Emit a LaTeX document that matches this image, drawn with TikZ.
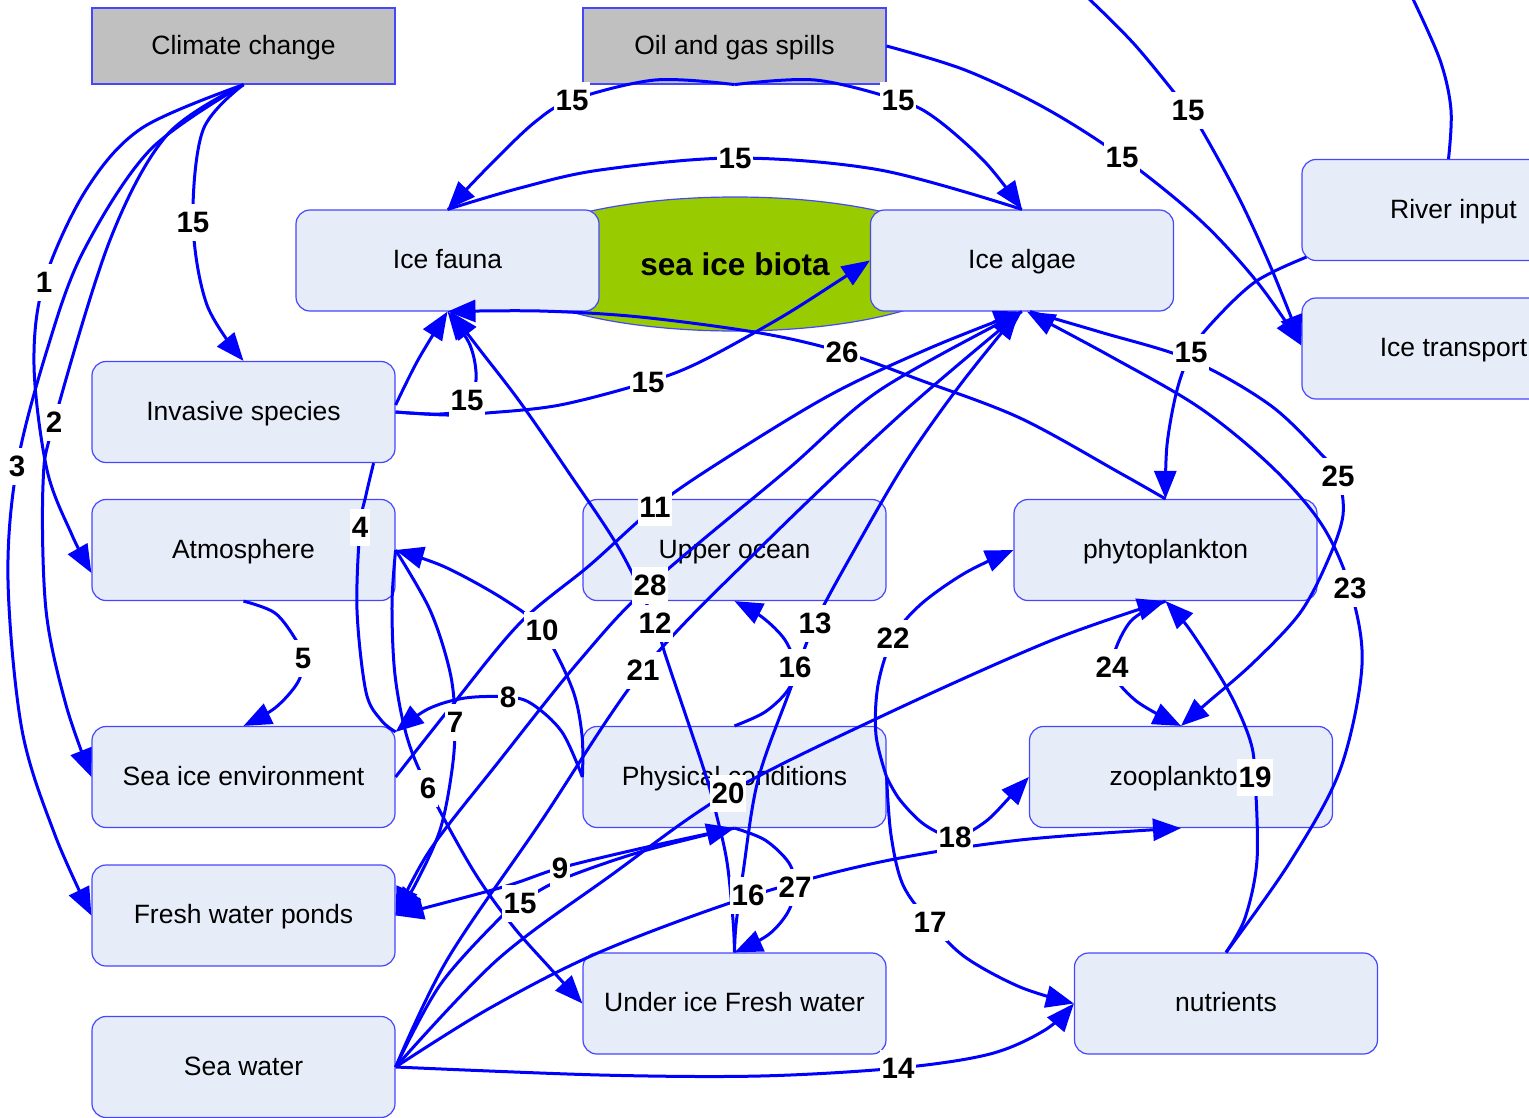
\documentclass[tikz,border=0pt]{standalone}
\usepackage{fontspec}
\setmainfont{Liberation Sans}
\usetikzlibrary{arrows.meta,shapes.geometric}
\definecolor{boxfill}{RGB}{230,236,248}
\definecolor{boxline}{RGB}{70,70,255}
\definecolor{srcfill}{RGB}{192,192,192}
\definecolor{biotagreen}{RGB}{153,204,0}
\definecolor{linkblue}{RGB}{0,0,255}
\pgfdeclarelayer{biota}
\pgfdeclarelayer{boxes}
\pgfdeclarelayer{edges}
\pgfsetlayers{biota,boxes,edges,main}
\tikzset{
  box/.style={draw=boxline, line width=1.2pt, fill=boxfill, rounded corners=14pt,
    minimum width=303pt, minimum height=101pt, inner sep=0pt, text height=22pt, text depth=6pt,
    font=\fontsize{26.5}{30}\selectfont},
  srcbox/.style={box, fill=srcfill, rounded corners=0pt, minimum height=76pt},
  lab/.style={fill=white, inner xsep=1.5pt, inner ysep=1pt, text height=28pt, text depth=7pt,
    font=\fontsize{29.5}{32}\selectfont\bfseries},
  link/.style={draw=linkblue, line width=3pt},
  arr/.style={link, -{Triangle[length=28pt,width=22pt]}},
  sm/.style={smooth, tension=0.55}
}
\begin{document}
\begin{tikzpicture}[x=1pt,y=-1pt]
\useasboundingbox (0,0) rectangle (1529,1117);

% the green group shape behind the two ice boxes
\begin{pgfonlayer}{biota}
\node[ellipse, draw=boxline, line width=1.2pt, fill=biotagreen, minimum width=470pt, minimum height=134pt,
  font=\fontsize{31.5}{34}\selectfont\bfseries] (biota) at (735,264) {sea ice biota};
\end{pgfonlayer}

% boxes
\begin{pgfonlayer}{boxes}
\node[srcbox] (cc) at (243.5,46) {Climate change};
\node[srcbox] (oil) at (734.5,46) {Oil and gas spills};
\node[box] (fauna) at (447.5,260.5) {Ice fauna};
\node[box] (alg) at (1022,260.5) {Ice algae};
\node[box] (inv) at (243.5,412) {Invasive species};
\node[box] (atm) at (243.5,550) {Atmosphere};
\node[box] (sie) at (243.5,777) {Sea ice environment};
\node[box] (fwp) at (243.5,915.5) {Fresh water ponds};
\node[box] (sw) at (243.5,1067) {Sea water};
\node[box] (uo) at (734.5,550) {Upper ocean};
\node[box] (phys) at (734.5,777) {Physical conditions};
\node[box] (uif) at (734.5,1003.5) {Under ice Fresh water};
\node[box] (phyto) at (1165.5,550) {phytoplankton};
\node[box] (zoo) at (1181,777) {zooplankton};
\node[box] (nut) at (1226,1003.5) {nutrients};
\node[box] (river) at (1453.5,210) {River input};
\node[box] (trans) at (1453.5,348.5) {Ice transport};
\end{pgfonlayer}

% edge labels
\node[lab] (l1) at (44,282) {1};
\node[lab] (l2) at (54,422) {2};
\node[lab] (l3) at (17,466) {3};
\node[lab] (lcc) at (193,222) {15};
\node[lab] (loilL) at (572,100) {15};
\node[lab] (loilR) at (898,100) {15};
\node[lab] (lbio) at (735,158) {15};
\node[lab] (linvF) at (467,400) {15};
\node[lab] (linvA) at (648,382) {15};
\node[lab] (l26) at (842,352) {26};
\node[lab] (loilT) at (1122,157) {15};
\node[lab] (ltop) at (1188,110) {15};
\node[lab] (lriv) at (1191,352) {15};
\node[lab] (l25) at (1338,476) {25};
\node[lab] (l23) at (1350,588) {23};
\node[lab] (l24) at (1112,667) {24};
\node[lab] (l19) at (1255,777) {19};
\node[lab] (l4) at (360,527) {4};
\node[lab] (l5) at (303,658) {5};
\node[lab] (l6) at (428,788) {6};
\node[lab] (l7) at (455,722) {7};
\node[lab] (l8) at (508,697) {8};
\node[lab] (l10) at (542,630) {10};
\node[lab] (l11) at (655,507) {11};
\node[lab] (l28) at (650,585) {28};
\node[lab] (l12) at (655,623) {12};
\node[lab] (l21) at (643,670) {21};
\node[lab] (l13) at (815,623) {13};
\node[lab] (l16a) at (795,667) {16};
\node[lab] (l22) at (893,638) {22};
\node[lab] (l20) at (728,793) {20};
\node[lab] (l18) at (955,837) {18};
\node[lab] (l9) at (560,868) {9};
\node[lab] (l15b) at (520,903) {15};
\node[lab] (l16b) at (748,895) {16};
\node[lab] (l27) at (795,887) {27};
\node[lab] (l17) at (930,922) {17};
\node[lab] (l14) at (898,1068) {14};

\coordinate (top1) at (1087,-3);
\coordinate (top2) at (1412,-3);

\begin{pgfonlayer}{edges}
% from Climate change
\draw[arr] plot[sm] coordinates {(cc.south) (142,128) (86,190) (l1.center) (34,365) (47,470) (72,535) ([yshift=-23pt]atm.west)};
\draw[arr] plot[sm] coordinates {(cc.south) (167,135) (110,240) (l2.center) (43,485) (46,610) (66,705) (sie.west)};
\draw[arr] plot[sm] coordinates {(cc.south) (150,150) (83,252) (47,350) (l3.center) (8,580) (22,730) (55,835) (fwp.west)};
\draw[arr] plot[sm] coordinates {(cc.south) (203,130) (lcc.center) (207,305) (inv.north)};
% from Oil and gas spills
\draw[arr] plot[sm] coordinates {(oil.south) (655,80) (loilL.center) (535,122) (490,165) (fauna.north)};
\draw[arr] plot[sm] coordinates {(oil.south) (815,80) (loilR.center) (935,118) (985,162) (alg.north)};
\draw[arr] plot[sm] coordinates {(oil.east) (965,70) (1045,108) (loilT.center) (1200,220) (1258,283) ([yshift=3pt]trans.west)};
\draw[arr] plot[sm] coordinates {(top1) (1135,45) (ltop.center) (1203,132) (1240,200) (1272,270) ([yshift=5pt]trans.west)};
\draw[link] plot[sm] coordinates {(alg.north) (880,170) (lbio.center) (600,170) (520,188) (fauna.north)};
% river input
\draw[link] plot[sm] coordinates {([xshift=-5pt]river.north) (1451,110) (1440,60) (top2)};
\draw[arr] plot[sm] coordinates {([xshift=5pt,yshift=4pt]river.south west) (1255,282) (1210,325) (lriv.center) (1177,390) (1167,445) (phyto.north)};
% invasive species
\draw[arr] plot[sm] coordinates {([yshift=7pt]inv.east) (418,360) (fauna.south)};
\draw[arr] plot[sm] coordinates {(inv.east) (440,414) (465,408) (476,380) (470,345) (fauna.south)};
\draw[arr] plot[sm] coordinates {(inv.east) (447,415) (487,413) (560,405) (linvA.center) (700,362) (780,318) (840,280) (alg.west)};
\draw[link] plot[sm] coordinates {([xshift=-22pt]inv.south east) (366,495) (l4.center) (357,610) (366,692) (381,720) ([yshift=-6pt]sie.north east)};
% plankton, nutrients
\draw[arr] plot[sm] coordinates {(phyto.north) (1120,473) (1020,418) (920,380) (l26.center) (760,333) (640,317) (540,311) (fauna.south)};
\draw[arr] plot[sm] coordinates {([xshift=8pt]alg.south) (1100,332) (1191,360) (1270,405) (1322,455) (l25.center) (1343,515) (1328,560) (1300,613) (1253,663) (1207,703) (zoo.north)};
\draw[arr] plot[sm] coordinates {(nut.north) (1290,862) (1340,770) (1362,665) (l23.center) (1322,525) (1272,467) (1200,408) (1110,356) ([xshift=5pt]alg.south)};
\draw[arr] plot[sm] coordinates {(nut.north) (1245,918) (1257,860) (l19.center) (1250,740) (1228,690) (1190,630) (phyto.south)};
\draw[arr] plot[sm] coordinates {(phyto.south) (1130,622) (l24.center) (1135,700) (zoo.north)};
% from Sea water
\draw[arr] plot[sm] coordinates {(sw.east) (497,960) (610,876) (l20.center) (880,717) (1050,641) (phyto.south)};
\draw[arr] plot[sm] coordinates {(sw.east) (447,960) (540,823) (l21.center) (760,548) (900,415) (alg.south)};
\draw[arr] plot[sm] coordinates {(sw.east) (440,985) (500,918) (l15b.center) (560,880) (640,852) (phys.south)};
\draw[arr] plot[sm] coordinates {(sw.east) (490,1008) (600,952) (748,897) (880,862) (1020,840) (zoo.south)};
\draw[arr] plot[sm] coordinates {(sw.east) (600,1075) (760,1076) (l14.center) (990,1054) (1045,1030) (nut.west)};
% from Physical conditions
\draw[arr] plot[sm] coordinates {(phys.east) (891,835) (903,885) (l17.center) (965,957) (1020,987) (nut.west)};
\draw[arr] plot[sm] coordinates {(phys.east) (876,735) (878,685) (l22.center) (920,605) (965,573) (phyto.west)};
\draw[arr] plot[sm] coordinates {(phys.east) (900,800) (925,825) (l18.center) (985,822) (1010,797) (zoo.west)};
\draw[arr] plot[sm] coordinates {(phys.south) (647,847) (l9.center) (503,887) (fwp.east)};
\draw[arr] plot[sm] coordinates {(phys.south) (765,840) (789,863) (l27.center) (788,912) (768,935) (uif.north)};
\draw[arr] plot[sm] coordinates {(phys.north) (765,712) (788,690) (l16a.center) (785,640) (762,617) (uo.south)};
\draw[arr] plot[sm] coordinates {(phys.west) (582,735) (572,688) (l10.center) (505,600) (445,567) (atm.east)};
\draw[arr] plot[sm] coordinates {(phys.west) (562,732) (532,704) (l8.center) (465,698) (428,709) ([yshift=-6pt]sie.north east)};
% from Atmosphere
\draw[arr] plot[sm] coordinates {(atm.south) (275,613) (296,640) (l5.center) (298,682) (275,708) (sie.north)};
\draw[arr] plot[sm] coordinates {(atm.east) (392,605) (395,675) (407,737) (l6.center) (473,870) (512,925) (550,968) (uif.west)};
\draw[arr] plot[sm] coordinates {(atm.east) (430,610) (450,672) (l7.center) (452,770) (440,830) (415,885) (fwp.east)};
% from Under ice Fresh water
\draw[arr] plot[sm] coordinates {(uif.north) (733,920) (727,862) (717,817) (705,773) (667,660) (l12.center) (620,550) (567,470) (520,402) (480,350) ([xshift=3pt]fauna.south)};
\draw[arr] plot[sm] coordinates {(uif.north) (736,925) (743,873) (758,780) (790,690) (l13.center) (860,540) (907,460) (960,385) ([xshift=-3pt]alg.south)};
% Sea ice environment and Ice algae
\draw[arr] plot[sm] coordinates {(sie.east) (450,708) (520,623) (590,565) (l11.center) (720,462) (830,395) (930,348) (alg.south)};
\draw[arr] plot[sm] coordinates {(alg.south) (880,390) (787,470) (l28.center) (580,660) (500,760) (430,850) (fwp.east)};
\end{pgfonlayer}
\end{tikzpicture}
\end{document}
